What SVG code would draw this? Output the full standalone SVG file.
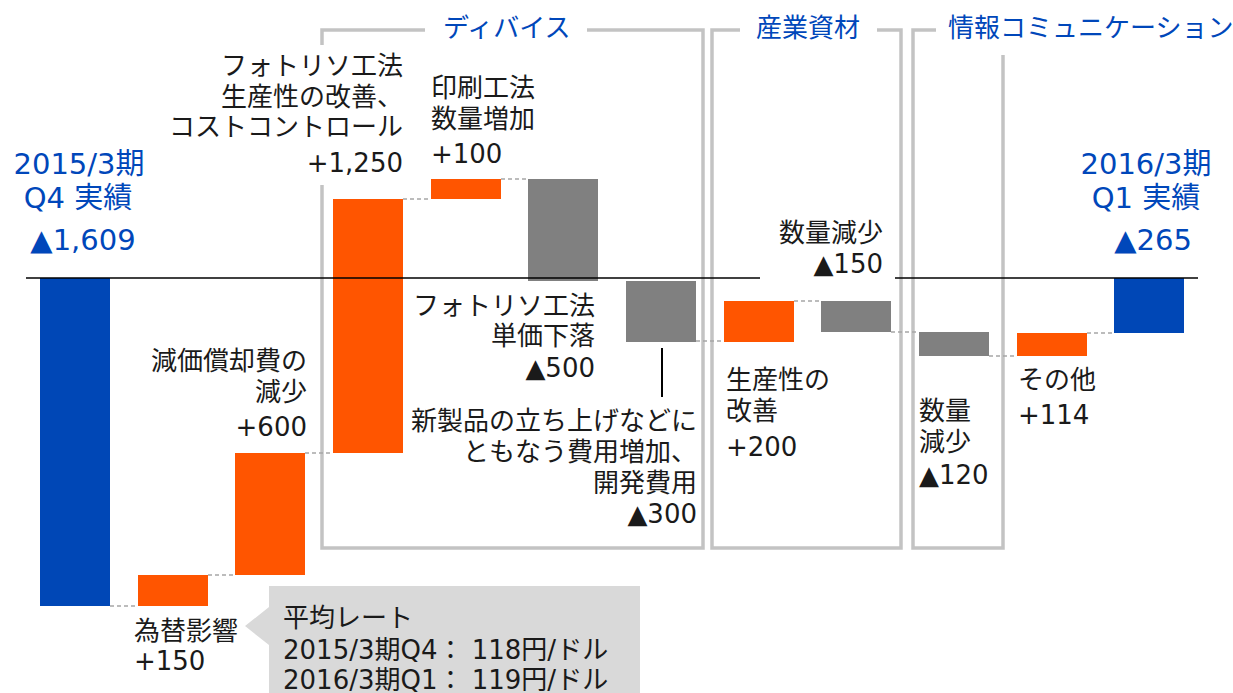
<svg xmlns="http://www.w3.org/2000/svg" width="1233" height="693" viewBox="0 0 1233 693">
<style>
.t{font-family:"DejaVu Sans","Noto Sans CJK JP",sans-serif;font-size:26px;fill:#1a1a1a}
.bl{font-family:"DejaVu Sans","Noto Sans CJK JP",sans-serif;font-size:29px;fill:#0047ba}
.h{font-family:"Noto Sans CJK JP",sans-serif;font-size:26px;fill:#0047ba}
.r{text-anchor:end}
.m{text-anchor:middle}
.box{fill:none;stroke:#c3c3c3;stroke-width:3.5}
.or{fill:#ff5500}
.gr{fill:#808080}
.bu{fill:#0047b6}
.dash{stroke:#a6a6a6;stroke-width:1.5;stroke-dasharray:4 3;fill:none}
</style>
<rect width="1233" height="693" fill="#fff"/>
<g id="segments">
  <g id="seg-device">
    <path class="box" d="M322 45 V30 H425 M587 30 H703 V548 H322 V185"/>
    <text class="h" x="443" y="37">ディバイス</text>
  </g>
  <g id="seg-material">
    <path class="box" d="M740 30 H712 V548 H901 V30 H877"/>
    <text class="h" x="756" y="37">産業資材</text>
  </g>
  <g id="seg-info">
    <path class="box" d="M936 30 H913 V548 H1003 V55"/>
    <text class="h" x="948" y="37">情報コミュニケーション</text>
  </g>
</g>
<g id="bars">
  <g id="start"><rect class="bu" x="40" y="278" width="70" height="328"/>
    <text class="bl m"><tspan x="79" y="174">2015/3期</tspan><tspan x="78" y="208">Q4 実績</tspan><tspan x="83" y="250">▲1,609</tspan></text></g>
  <g id="fx"><rect class="or" x="138" y="575" width="70" height="31"/>
    <text class="t"><tspan x="134" y="640">為替影響</tspan><tspan x="134" y="670">+150</tspan></text></g>
  <g id="depr"><rect class="or" x="235" y="453" width="70" height="122"/>
    <text class="t r"><tspan x="307" y="370">減価償却費の</tspan><tspan x="307" y="401">減少</tspan><tspan x="307" y="436">+600</tspan></text></g>
  <g id="photo-prod"><rect class="or" x="333" y="199" width="70" height="254"/>
    <text class="t r"><tspan x="403" y="75">フォトリソ工法</tspan><tspan x="403" y="106">生産性の改善、</tspan><tspan x="403" y="136">コストコントロール</tspan><tspan x="403" y="172">+1,250</tspan></text></g>
  <g id="print"><rect class="or" x="431" y="179" width="70" height="20"/>
    <text class="t"><tspan x="431" y="97">印刷工法</tspan><tspan x="431" y="128">数量増加</tspan><tspan x="431" y="163">+100</tspan></text></g>
  <g id="photo-price"><rect class="gr" x="528" y="179" width="70" height="102"/>
    <text class="t r"><tspan x="595" y="315">フォトリソ工法</tspan><tspan x="595" y="345">単価下落</tspan><tspan x="595" y="377">▲500</tspan></text></g>
  <g id="newprod"><rect class="gr" x="626" y="281" width="70" height="61"/>
    <line x1="662" y1="348" x2="662" y2="397" stroke="#000" stroke-width="2"/>
    <text class="t r"><tspan x="697" y="430">新製品の立ち上げなどに</tspan><tspan x="697" y="461">ともなう費用増加、</tspan><tspan x="697" y="492">開発費用</tspan><tspan x="697" y="523">▲300</tspan></text></g>
  <g id="mat-prod"><rect class="or" x="724" y="301" width="70" height="41"/>
    <text class="t"><tspan x="726" y="389">生産性の</tspan><tspan x="726" y="420">改善</tspan><tspan x="726" y="456">+200</tspan></text></g>
  <g id="mat-vol"><rect class="gr" x="821" y="301" width="70" height="31"/>
    <text class="t r"><tspan x="883" y="242">数量減少</tspan><tspan x="883" y="273">▲150</tspan></text></g>
  <g id="info-vol"><rect class="gr" x="919" y="332" width="70" height="24"/>
    <text class="t"><tspan x="919" y="420">数量</tspan><tspan x="919" y="451">減少</tspan><tspan x="919" y="484">▲120</tspan></text></g>
  <g id="other"><rect class="or" x="1017" y="333" width="70" height="23"/>
    <text class="t"><tspan x="1018" y="389">その他</tspan><tspan x="1018" y="424">+114</tspan></text></g>
  <g id="end"><rect class="bu" x="1114" y="278" width="70" height="55"/>
    <text class="bl m"><tspan x="1146" y="174">2016/3期</tspan><tspan x="1146" y="208">Q1 実績</tspan><tspan x="1153" y="250">▲265</tspan></text></g>
</g>
<g id="connectors">
  <line class="dash" x1="110" y1="606" x2="138" y2="606"/>
  <line class="dash" x1="208" y1="575" x2="235" y2="575"/>
  <line class="dash" x1="305" y1="453" x2="333" y2="453"/>
  <line class="dash" x1="403" y1="199" x2="431" y2="199"/>
  <line class="dash" x1="501" y1="179" x2="528" y2="179"/>
  <line class="dash" x1="696" y1="341" x2="724" y2="341"/>
  <line class="dash" x1="794" y1="301" x2="821" y2="301"/>
  <line class="dash" x1="891" y1="332" x2="919" y2="332"/>
  <line class="dash" x1="989" y1="356" x2="1017" y2="356"/>
  <line class="dash" x1="1087" y1="333" x2="1114" y2="333"/>
</g>
<g id="axis">
  <line x1="26" y1="278" x2="760" y2="278" stroke="#000" stroke-width="1.5"/>
  <line x1="895" y1="278" x2="1198" y2="278" stroke="#000" stroke-width="1.5"/>
</g>
<g id="callout">
  <path d="M269 586 H640 V693 H269 V645 L245 626 L269 607 Z" fill="#d9d9d9"/>
  <text class="t"><tspan x="283" y="627">平均レート</tspan><tspan x="283" y="659">2015/3期Q4： 118円/ドル</tspan><tspan x="283" y="689">2016/3期Q1： 119円/ドル</tspan></text>
</g>
</svg>
